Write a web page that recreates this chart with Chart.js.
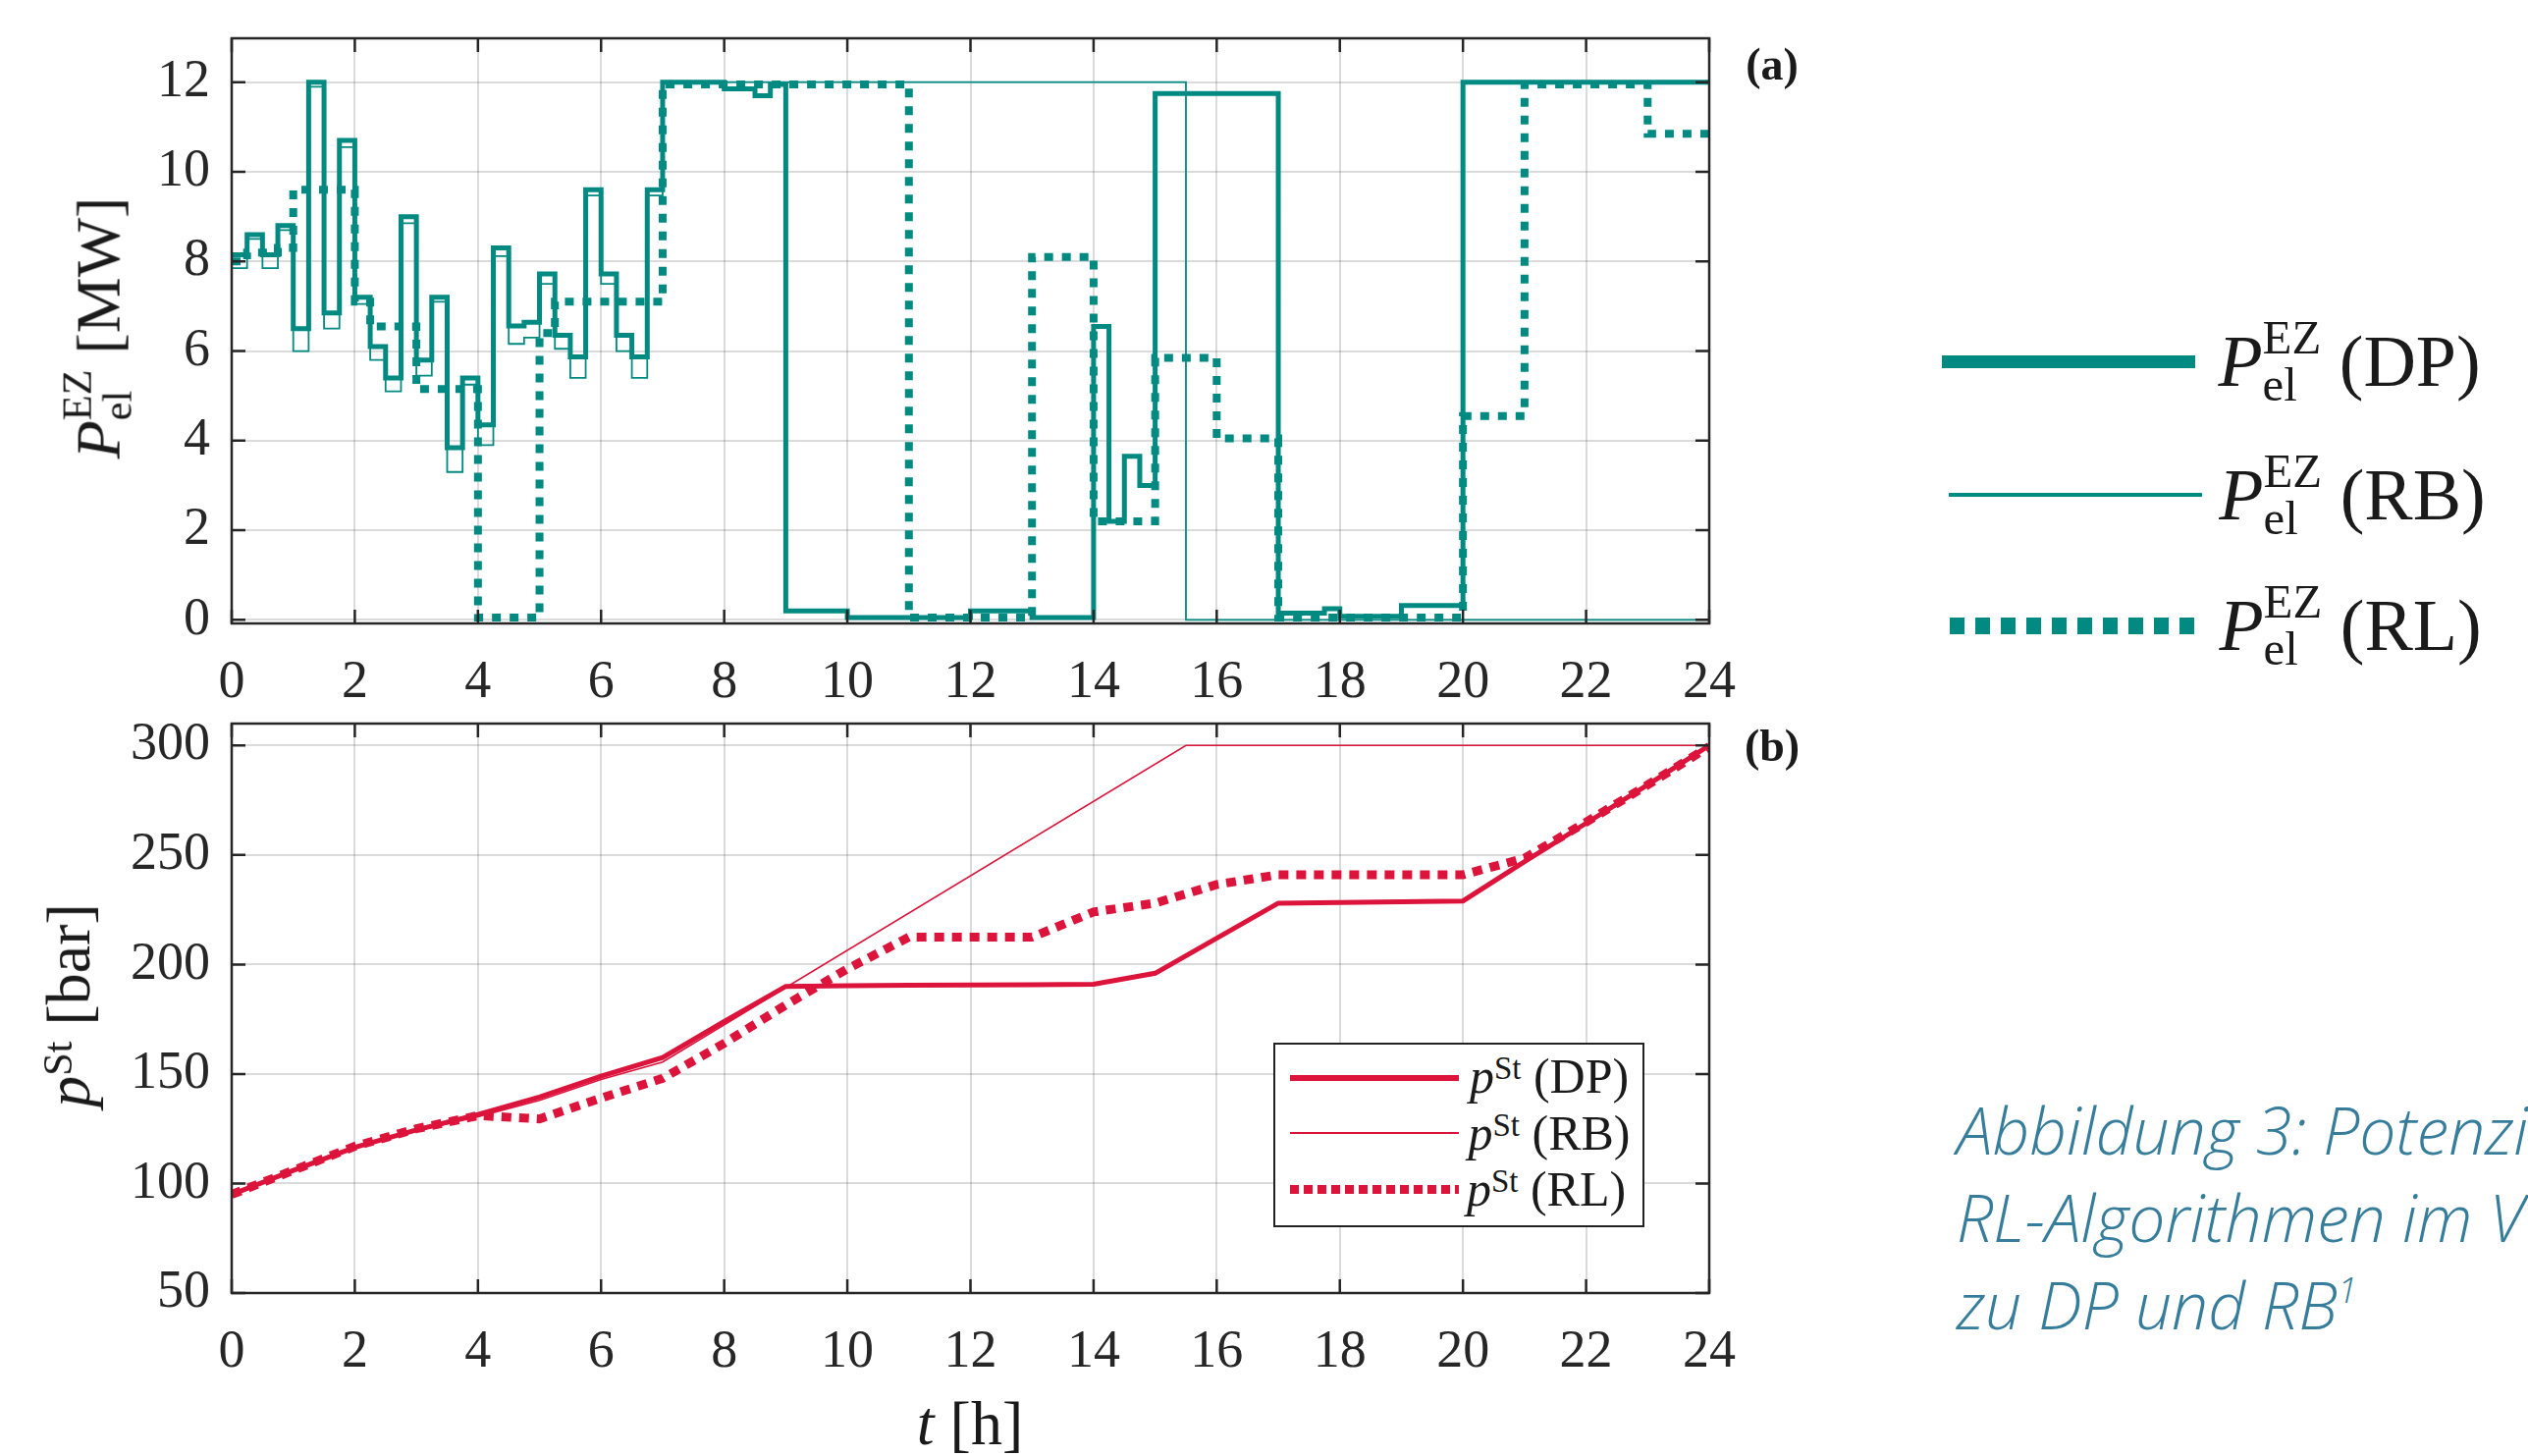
<!DOCTYPE html>
<html>
<head>
<meta charset="utf-8">
<script src="https://cdn.jsdelivr.net/npm/chart.js@4.4.1/dist/chart.umd.min.js"></script>
<style>
  body { margin: 0; width: 2575px; height: 1483px; overflow: hidden; background: #fff; position: relative;
         font-family: "Liberation Serif", serif; color: #1a1a1a; }
  .feld { position: absolute; }
  .lab { position: absolute; white-space: nowrap; transform: translate(-50%, -50%); line-height: 1; }
  .rot { transform: translate(-50%, -50%) rotate(-90deg); }
  .ss { display: inline-block; vertical-align: -0.3em; font-size: 0.66em; line-height: 0.98; text-align: left; }
  .ss span { display: block; }
  .hoch { font-size: 0.66em; vertical-align: 0.42em; line-height: 0; }
  .strich { position: absolute; }
  .caption { position: absolute; left: 1993px; top: 1106px; font-family: "Open Sans", sans-serif; font-style: italic;
             font-weight: 300; font-size: 66px; line-height: 89px; color: #367d9c; white-space: nowrap; }
  .caption sup { font-size: 0.55em; vertical-align: 0.75em; line-height: 0; }
</style>
</head>
<body>

<div class="feld" style="left:0;top:0;width:1800px;height:720px"><canvas id="chartA"></canvas></div>
<div class="feld" style="left:0;top:700px;width:1800px;height:783px"><canvas id="chartB"></canvas></div>

<!-- Achsenbeschriftungen -->
<div class="lab rot" style="left:99px;top:334px;font-size:64px"><i>P</i><span class="ss"><span>EZ</span><span>el</span></span> [MW]</div>
<div class="lab rot" style="left:70px;top:1024px;font-size:64px"><i>p</i><span class="hoch">St</span> [bar]</div>
<div class="lab" style="left:988px;top:1450px;font-size:64px"><i>t</i> [h]</div>
<div class="lab" style="left:1805px;top:66px;font-size:46px;font-weight:bold">(a)</div>
<div class="lab" style="left:1805px;top:760px;font-size:46px;font-weight:bold">(b)</div>

<!-- Legende rechts (a) -->
<div class="strich" style="left:1978px;top:362px;width:258px;height:13px;background:#008a82"></div>
<div class="strich" style="left:1985px;top:502px;width:258px;height:4px;background:#008a82"></div>
<div class="strich" style="left:1986px;top:629px;width:250px;height:17px;background:repeating-linear-gradient(to right,#008a82 0 15px,transparent 15px 26px)"></div>
<div class="lab" style="left:2393px;top:368px;font-size:74px"><i>P</i><span class="ss"><span>EZ</span><span>el</span></span> (DP)</div>
<div class="lab" style="left:2396px;top:504px;font-size:74px"><i>P</i><span class="ss"><span>EZ</span><span>el</span></span> (RB)</div>
<div class="lab" style="left:2394px;top:637px;font-size:74px"><i>P</i><span class="ss"><span>EZ</span><span>el</span></span> (RL)</div>

<!-- Legende (b) -->
<div class="feld" style="left:1297px;top:1062px;width:374px;height:184px;border:2.5px solid #222;background:#fff"></div>
<div class="strich" style="left:1314px;top:1095px;width:172px;height:6px;background:#dc143c"></div>
<div class="strich" style="left:1314px;top:1153px;width:172px;height:2px;background:#dc143c"></div>
<div class="strich" style="left:1314px;top:1207px;width:172px;height:9px;background:repeating-linear-gradient(to right,#dc143c 0 9px,transparent 9px 14px)"></div>
<div class="lab" style="left:1578px;top:1096px;font-size:50px"><i>p</i><span class="hoch">St</span> (DP)</div>
<div class="lab" style="left:1578px;top:1154px;font-size:50px"><i>p</i><span class="hoch">St</span> (RB)</div>
<div class="lab" style="left:1575px;top:1211px;font-size:50px"><i>p</i><span class="hoch">St</span> (RL)</div>

<div class="caption">Abbildung 3: Potenzial der<br>RL-Algorithmen im Vergleich<br>zu DP und RB<sup>1</sup></div>

<script>
const teal = "#008a82";
const crimson = "#dc143c";

const xTicks = [0, 2, 4, 6, 8, 10, 12, 14, 16, 18, 20, 22, 24];
const yTicksA = [0, 2, 4, 6, 8, 10, 12];
const yTicksB = [50, 100, 150, 200, 250, 300];

// Elektrolyseleistung in MW, 15-min Schritte (je Zeile eine Stunde)
const pelDP = [
    8.15, 8.6, 8.15, 8.8,
    6.5, 12.0, 6.85, 10.7,
    7.2, 6.1, 5.4, 9.0,
    5.8, 7.2, 3.84, 5.4,
    4.35, 8.3, 6.56, 6.64,
    7.72, 6.35, 5.87, 9.6,
    7.72, 6.35, 5.87, 9.6,
    12, 12, 12, 12,
    11.85, 11.85, 11.7, 11.95,
    0.2, 0.2, 0.2, 0.2,
    0.05, 0.05, 0.05, 0.05,
    0.05, 0.05, 0.05, 0.05,
    0.2, 0.2, 0.2, 0.2,
    0.05, 0.05, 0.05, 0.05,
    6.55, 2.2, 3.65, 3.0,
    11.75, 11.75, 11.75, 11.75,
    11.75, 11.75, 11.75, 11.75,
    0.15, 0.15, 0.15, 0.25,
    0.08, 0.08, 0.08, 0.08,
    0.32, 0.32, 0.32, 0.32,
    12, 12, 12, 12,
    12, 12, 12, 12,
    12, 12, 12, 12,
    12, 12, 12, 12
];

const pelRB = [
    7.85, 8.5, 7.85, 8.7,
    6.0, 11.9, 6.5, 10.55,
    7.05, 5.8, 5.1, 8.85,
    5.45, 7.1, 3.3, 5.25,
    3.9, 8.12, 6.16, 6.3,
    7.5, 6.05, 5.4, 9.47,
    7.5, 6.0, 5.4, 9.47,
    12, 12, 12, 12,
    12, 12, 12, 12,
    12, 12, 12, 12,
    12, 12, 12, 12,
    12, 12, 12, 12,
    12, 12, 12, 12,
    12, 12, 12, 12,
    12, 12, 12, 12,
    12, 12, 0, 0,
    0, 0, 0, 0,
    0, 0, 0, 0,
    0, 0, 0, 0,
    0, 0, 0, 0,
    0, 0, 0, 0,
    0, 0, 0, 0,
    0, 0, 0, 0,
    0, 0, 0, 0
];

const pelRL = [
    8.0, 8.2, 8.2, 8.3,
    9.6, 9.6, 9.6, 9.6,
    7.1, 6.55, 6.55, 6.55,
    5.15, 5.15, 5.15, 5.15,
    0.05, 0.05, 0.05, 0.05,
    6.4, 7.1, 7.1, 7.1,
    7.1, 7.1, 7.1, 7.1,
    11.95, 11.95, 11.95, 11.95,
    11.95, 11.95, 11.95, 11.95,
    11.95, 11.95, 11.95, 11.95,
    11.95, 11.95, 11.95, 11.95,
    0.05, 0.05, 0.05, 0.05,
    0.05, 0.05, 0.05, 0.05,
    8.1, 8.1, 8.1, 8.1,
    2.2, 2.2, 2.2, 2.2,
    5.85, 5.85, 5.85, 5.85,
    4.05, 4.05, 4.05, 4.05,
    0.05, 0.05, 0.05, 0.05,
    0.05, 0.05, 0.05, 0.05,
    0.05, 0.05, 0.05, 0.05,
    4.55, 4.55, 4.55, 4.55,
    11.95, 11.95, 11.95, 11.95,
    11.95, 11.95, 11.95, 11.95,
    10.85, 10.85, 10.85, 10.85
];

// Speicherdruck in bar
const hours = [0, 1, 2, 3, 4, 5, 6, 7, 8, 9, 10, 11, 12, 13, 14, 15, 16, 17, 18, 19, 20, 21, 22, 23, 24];
const pDP = [95, 106, 116.5, 124.5, 131.5, 139.5, 149, 157.5, 174, 190, 190.3, 190.5, 190.7, 190.8, 191, 196, 212, 228, 228.3, 228.6, 229, 247, 264.5, 282, 300];
const pRL = [95, 106, 117, 125, 131, 129.5, 139, 148, 164, 181.5, 198, 212.5, 212.5, 212.5, 224, 228, 236.5, 241, 241, 241, 241, 248.5, 265, 282, 299.5];
const rbTime = [0, 1, 2, 3, 4, 5, 6, 7, 15.5, 24];
const pRB = [95, 105.5, 116, 124, 130.5, 138, 147.5, 155.5, 300, 300];

function stufen(werte) {
    var pts = werte.map(function (v, i) {
        return { x: i * 0.25, y: v };
    });
    pts.push({ x: 24, y: werte[werte.length - 1] });
    return pts;
}

function punkte(zeit, werte) {
    return zeit.map(function (t, i) {
        return { x: t, y: werte[i] };
    });
}

// Rahmen und nach innen zeigende Ticks wie in MATLAB
const rahmen = {
    id: "rahmen",
    afterDraw(chart) {
        const ctx = chart.ctx;
        const a = chart.chartArea;
        const xs = chart.scales.x;
        const ys = chart.scales.y;
        ctx.save();
        ctx.strokeStyle = "#262626";
        ctx.lineWidth = 2.5;
        ctx.beginPath();
        xs.ticks.forEach(function (t) {
            const px = xs.getPixelForValue(t.value);
            ctx.moveTo(px, a.bottom);
            ctx.lineTo(px, a.bottom - 14);
            ctx.moveTo(px, a.top);
            ctx.lineTo(px, a.top + 14);
        });
        ys.ticks.forEach(function (t) {
            const py = ys.getPixelForValue(t.value);
            ctx.moveTo(a.left, py);
            ctx.lineTo(a.left + 14, py);
            ctx.moveTo(a.right, py);
            ctx.lineTo(a.right - 14, py);
        });
        ctx.stroke();
        ctx.strokeRect(a.left, a.top, a.right - a.left, a.bottom - a.top);
        ctx.restore();
    }
};

function achsen(yMin, yMax, yTicks, xHoehe) {
    const tickFont = { family: "'Liberation Serif', serif", size: 54 };
    return {
        x: {
            type: "linear",
            min: 0,
            max: 24,
            afterBuildTicks: function (s) { s.ticks = xTicks.map(function (v) { return { value: v }; }); },
            afterFit: function (s) {
                s.height = xHoehe;
                s.paddingLeft = 0;
                s.paddingRight = 0;
            },
            grid: { color: "rgba(0,0,0,0.14)", lineWidth: 2, drawTicks: false },
            border: { display: false },
            ticks: { font: tickFont, color: "#262626", padding: 28, maxRotation: 0 }
        },
        y: {
            min: yMin,
            max: yMax,
            afterBuildTicks: function (s) { s.ticks = yTicks.map(function (v) { return { value: v }; }); },
            afterFit: function (s) {
                s.width = 236;
                s.paddingTop = 0;
                s.paddingBottom = 0;
            },
            grid: { color: "rgba(0,0,0,0.14)", lineWidth: 2, drawTicks: false },
            border: { display: false },
            ticks: { font: tickFont, color: "#262626", padding: 22 }
        }
    };
}

function linie(daten, farbe, breite, dash, reihenfolge, stepped) {
    return {
        data: daten,
        borderColor: farbe,
        borderWidth: breite,
        borderDash: dash,
        borderCapStyle: "butt",
        stepped: stepped,
        pointRadius: 0,
        tension: 0,
        fill: false,
        order: reihenfolge
    };
}

const gemeinsam = {
    responsive: true,
    maintainAspectRatio: false,
    animation: false,
    parsing: false,
    plugins: { legend: { display: false }, tooltip: { enabled: false } }
};

new Chart(document.getElementById("chartA"), {
    type: "line",
    data: {
        datasets: [
            linie(stufen(pelDP), teal, 5, [], 2, true),
            linie(stufen(pelRB), teal, 1.8, [], 1, true),
            linie(stufen(pelRL), teal, 8, [9, 9], 0, true)
        ]
    },
    options: Object.assign({}, gemeinsam, {
        layout: { padding: { top: 39, right: 59, left: 0, bottom: 0 } },
        scales: achsen(-0.08, 12.98, yTicksA, 85)
    }),
    plugins: [rahmen]
});

new Chart(document.getElementById("chartB"), {
    type: "line",
    data: {
        datasets: [
            linie(punkte(hours, pDP), crimson, 5, [], 2, false),
            linie(punkte(rbTime, pRB), crimson, 1.6, [], 1, false),
            linie(punkte(hours, pRL), crimson, 9, [10, 8], 0, false)
        ]
    },
    options: Object.assign({}, gemeinsam, {
        layout: { padding: { top: 37, right: 59, left: 0, bottom: 0 } },
        scales: achsen(50, 310, yTicksB, 166)
    }),
    plugins: [rahmen]
});
</script>
</body>
</html>
